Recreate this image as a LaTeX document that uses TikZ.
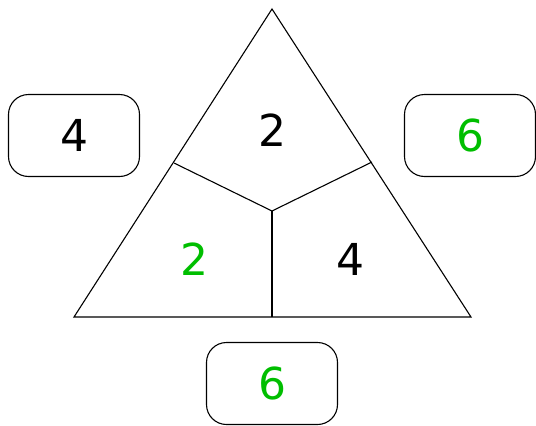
\documentclass[tikz,border=0pt]{standalone}
\usepackage{fontspec}
\setmainfont{DejaVu Sans}
\definecolor{grn}{RGB}{0,190,0}
\begin{document}
\begin{tikzpicture}[x=1pt,y=-1pt,
  numbox/.style={draw=black,line width=1.1pt,rounded corners=20pt,minimum width=131pt,minimum height=82pt,inner sep=0pt},
  num/.style={font=\fontsize{44}{44}\selectfont,inner sep=0pt},
  edge/.style={line width=1.1pt,line join=miter}]
\useasboundingbox (0,0) rectangle (536,426);
\coordinate (A) at (272,9);
\coordinate (L) at (74,317);
\coordinate (R) at (471,317);
\coordinate (C) at (272,211);
\coordinate (ML) at (174,163);
\coordinate (MR) at (372,162);
\coordinate (MB) at (272,317);
\draw[edge] (A) -- (L) -- (R) -- cycle;
\draw[edge] (C) -- (ML);
\draw[edge] (C) -- (MR);
\draw[edge] (C) -- (MB);
\node[numbox] (bl) at (74,135.5) {};
\node[numbox] (br) at (470,135.5) {};
\node[numbox] (bb) at (272,383.5) {};
\node[num] (tl) at (bl) {4};
\node[num,text=grn] (tr) at (br) {6};
\node[num,text=grn] (tb) at (bb) {6};
\node[num] (top) at (272,130) {2};
\node[num,text=grn] (lft) at (194,259) {2};
\node[num] (rgt) at (350,259) {4};
\end{tikzpicture}
\end{document}
